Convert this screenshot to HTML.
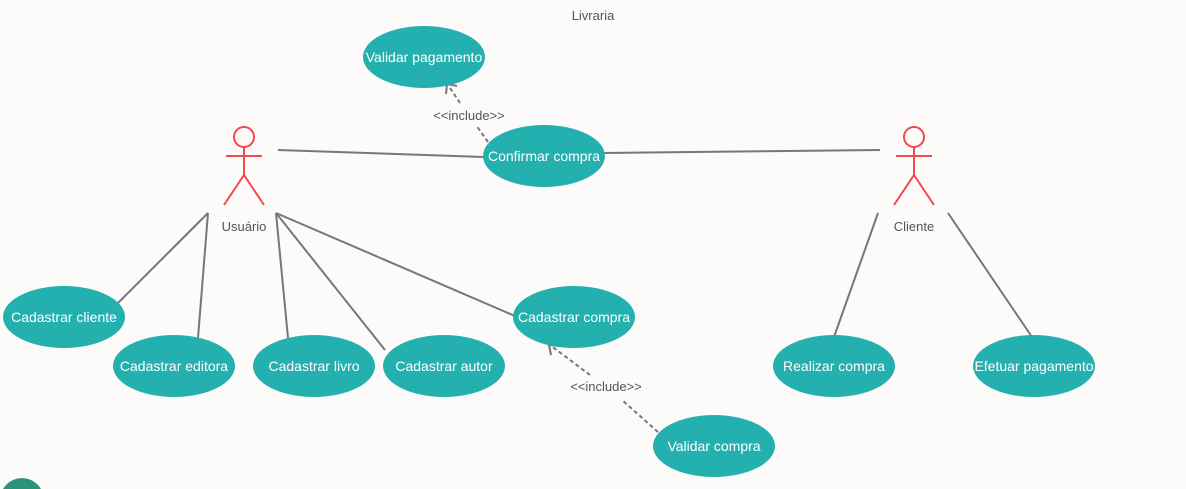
<!DOCTYPE html>
<html><head><meta charset="utf-8"><style>
html,body{margin:0;padding:0;background:#fcfbfa;width:1186px;height:489px;overflow:hidden;}
svg{display:block;overflow:hidden;font-family:"Liberation Sans",sans-serif;}
.e{fill:#23b0af}
.t{fill:#fff;font-size:14px;text-anchor:middle}
.l{stroke:#777;stroke-width:2;fill:none}
.d{stroke:#777;stroke-width:2;fill:none;stroke-dasharray:4,3}
.a{stroke:#f24a4a;stroke-width:2;fill:none}
.g{fill:#555;font-size:13px;text-anchor:middle}
</style></head><body>
<svg width="1186" height="489" viewBox="0 0 1186 489">
<text x="593" y="20" class="g">Livraria</text>
<line class="l" x1="278" y1="150" x2="484" y2="157"/>
<line class="l" x1="604" y1="153" x2="880" y2="150"/>
<line class="l" x1="208" y1="213" x2="118" y2="303"/>
<line class="l" x1="208" y1="213" x2="198" y2="338"/>
<line class="l" x1="276" y1="213" x2="288" y2="338"/>
<line class="l" x1="276" y1="213" x2="385" y2="350"/>
<line class="l" x1="276" y1="213" x2="515" y2="316"/>
<line class="l" x1="878" y1="213" x2="834" y2="337"/>
<line class="l" x1="948" y1="213" x2="1032" y2="337"/>
<line class="d" x1="488" y1="142" x2="476" y2="125"/>
<line class="d" x1="460" y1="103" x2="448" y2="85"/>
<polyline class="l" points="446,94 447,84 457,86"/>
<text x="469" y="120" class="g" font-size="12">&lt;&lt;include&gt;&gt;</text>
<line class="d" x1="658" y1="432" x2="622" y2="400"/>
<line class="d" x1="590" y1="375" x2="550" y2="345"/>
<polyline class="l" points="551,355 549,345 559,346"/>
<text x="606" y="391" class="g" font-size="12">&lt;&lt;include&gt;&gt;</text>
<g class="a"><circle cx="244" cy="137" r="10"/><line x1="244" y1="147" x2="244" y2="175"/><line x1="226" y1="156" x2="262" y2="156"/><polyline points="224,205 244,175 264,205"/></g>
<text x="244" y="231" class="g">Usuário</text>
<g class="a"><circle cx="914" cy="137" r="10"/><line x1="914" y1="147" x2="914" y2="175"/><line x1="896" y1="156" x2="932" y2="156"/><polyline points="894,205 914,175 934,205"/></g>
<text x="914" y="231" class="g">Cliente</text>
<ellipse class="e" cx="424" cy="57" rx="61" ry="31"/><text class="t" x="424" y="62">Validar pagamento</text>
<ellipse class="e" cx="544" cy="156" rx="61" ry="31"/><text class="t" x="544" y="161">Confirmar compra</text>
<ellipse class="e" cx="64" cy="317" rx="61" ry="31"/><text class="t" x="64" y="322">Cadastrar cliente</text>
<ellipse class="e" cx="174" cy="366" rx="61" ry="31"/><text class="t" x="174" y="371">Cadastrar editora</text>
<ellipse class="e" cx="314" cy="366" rx="61" ry="31"/><text class="t" x="314" y="371">Cadastrar livro</text>
<ellipse class="e" cx="444" cy="366" rx="61" ry="31"/><text class="t" x="444" y="371">Cadastrar autor</text>
<ellipse class="e" cx="574" cy="317" rx="61" ry="31"/><text class="t" x="574" y="322">Cadastrar compra</text>
<ellipse class="e" cx="714" cy="446" rx="61" ry="31"/><text class="t" x="714" y="451">Validar compra</text>
<ellipse class="e" cx="834" cy="366" rx="61" ry="31"/><text class="t" x="834" y="371">Realizar compra</text>
<ellipse class="e" cx="1034" cy="366" rx="61" ry="31"/><text class="t" x="1034" y="371">Efetuar pagamento</text>
<path d="M3,489 A22,22 0 0 1 41,489 Z" fill="#2a9479"/>
</svg>
</body></html>
